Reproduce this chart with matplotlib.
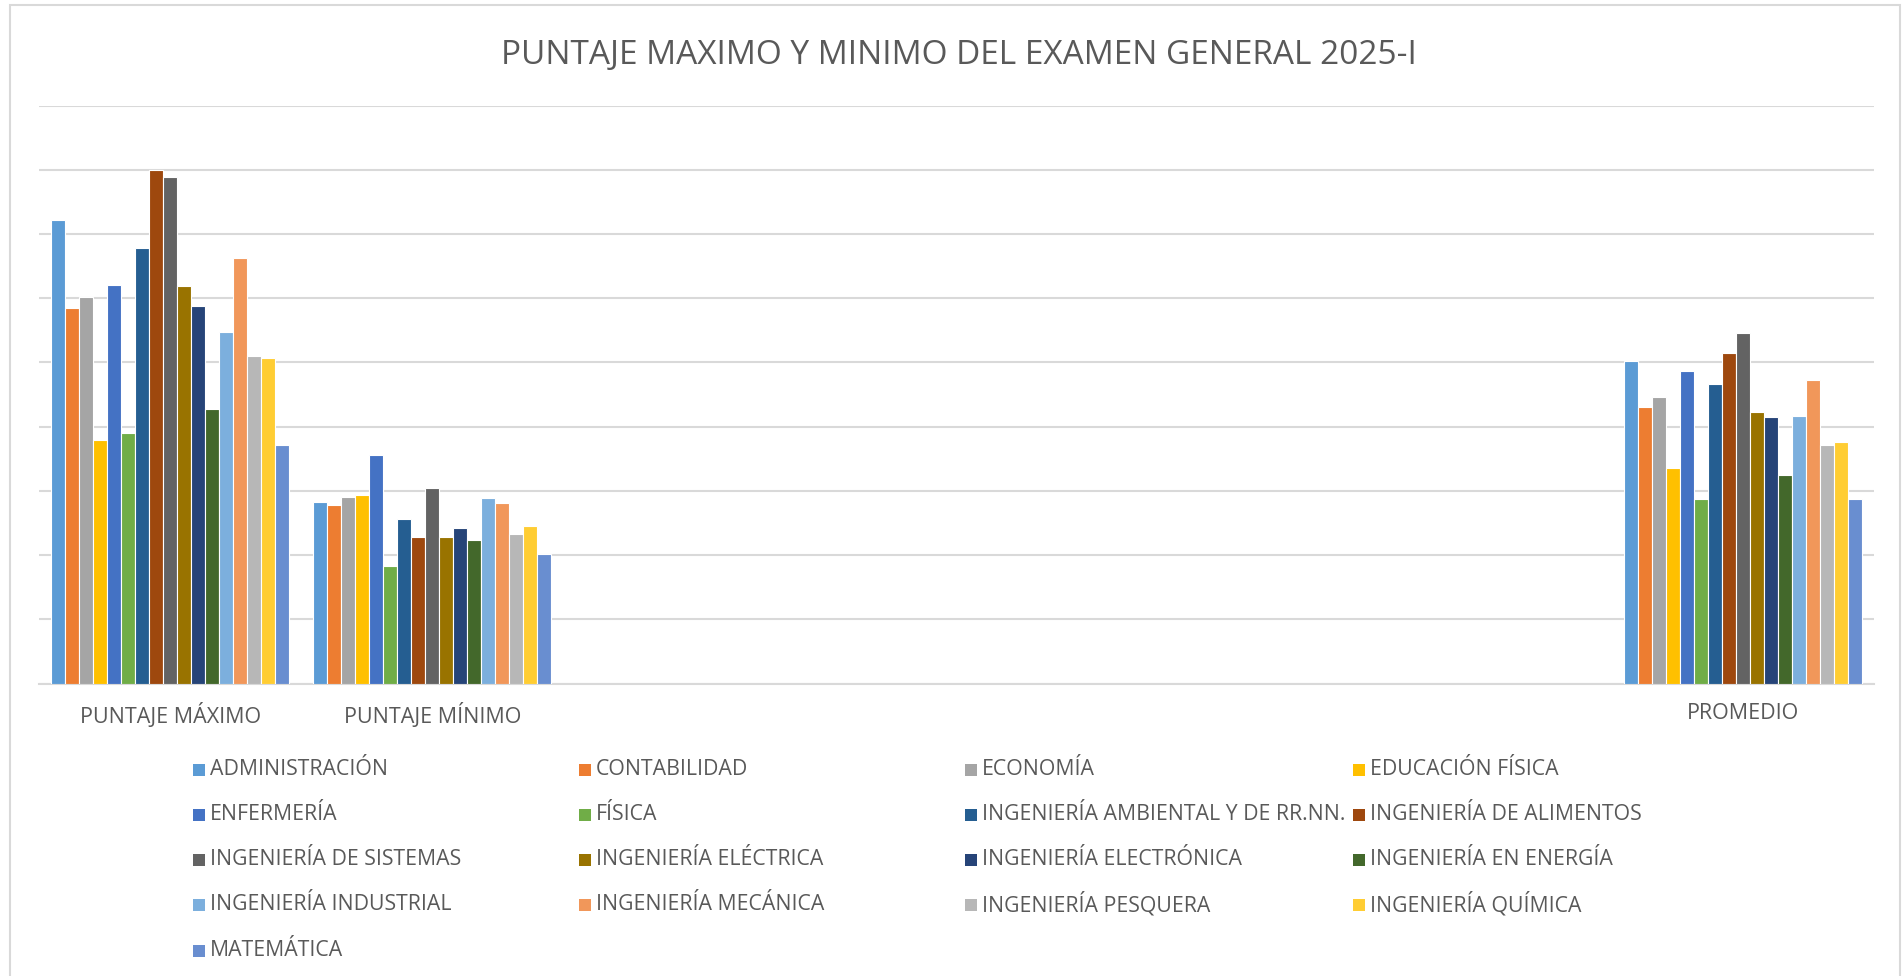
import numpy as np
import matplotlib
matplotlib.use("Agg")
import matplotlib.pyplot as plt
from matplotlib.patches import Rectangle

plt.rcParams['font.family'] = ['Open Sans', 'DejaVu Sans']

title = "PUNTAJE MAXIMO Y MINIMO DEL EXAMEN GENERAL 2025-I"
categories = ["PUNTAJE MÁXIMO", "PUNTAJE MÍNIMO", "", "", "", "", "PROMEDIO"]
series = ["ADMINISTRACIÓN", "CONTABILIDAD", "ECONOMÍA", "EDUCACIÓN FÍSICA",
          "ENFERMERÍA", "FÍSICA", "INGENIERÍA AMBIENTAL Y DE RR.NN.", "INGENIERÍA DE ALIMENTOS",
          "INGENIERÍA DE SISTEMAS", "INGENIERÍA ELÉCTRICA", "INGENIERÍA ELECTRÓNICA", "INGENIERÍA EN ENERGÍA",
          "INGENIERÍA INDUSTRIAL", "INGENIERÍA MECÁNICA", "INGENIERÍA PESQUERA", "INGENIERÍA QUÍMICA",
          "MATEMÁTICA"]
colors = ["#5B9BD5", "#ED7D31", "#A5A5A5", "#FFC000", "#4472C4", "#70AD47",
          "#255E91", "#9E480E", "#636363", "#997300", "#264478", "#43682B",
          "#7CAFDD", "#F1975A", "#B7B7B7", "#FFCD33", "#698ED0"]

puntaje_max = [72.2, 58.5, 60.2, 37.9, 62.0, 39.0, 67.9, 80.0, 78.9, 61.9, 58.8, 42.7,
               54.7, 66.3, 51.0, 50.7, 37.1]
puntaje_min = [28.3, 27.8, 29.0, 29.3, 35.6, 18.3, 25.6, 22.8, 30.4, 22.8, 24.2, 22.4,
               28.9, 28.1, 23.3, 24.5, 20.2]
promedio = [50.2, 43.1, 44.6, 33.6, 48.7, 28.7, 46.7, 51.4, 54.6, 42.3, 41.5, 32.5,
            41.7, 47.2, 37.1, 37.6, 28.7]

W, H = 1904, 976
fig = plt.figure(figsize=(W / 100, H / 100), dpi=100)
fig.patch.set_facecolor("white")

# chart border
fig.patches.append(Rectangle((10 / W, -0.01), 1890 / W, 1 - 5 / H + 0.01,
                             transform=fig.transFigure, fill=False,
                             edgecolor="#D9D9D9", linewidth=1.5))

left, right = 39 / W, 1874 / W
top, bottom = 1 - 105.6 / H, 1 - 683.6 / H
ax = fig.add_axes([left, bottom, right - left, top - bottom])

n = len(series)
ncat = len(categories)
gap = 1.7
w = 1.0 / (n + gap)
x = np.arange(ncat)
cat_data = {0: puntaje_max, 1: puntaje_min, 6: promedio}
for j in range(n):
    vals = np.array([cat_data[i][j] if i in cat_data else np.nan for i in range(ncat)])
    ax.bar(x + (j - (n - 1) / 2) * w, vals, width=w, color=colors[j],
           edgecolor="white", linewidth=0.8, zorder=3)

ax.set_xlim(-0.5, ncat - 0.5)
ax.set_ylim(0, 90)
ax.set_yticks(np.arange(0, 91, 10))
ax.yaxis.grid(True, color="#D9D9D9", linewidth=1.5, zorder=0)
ax.tick_params(axis="y", length=0, labelleft=False)
ax.tick_params(axis="x", length=0, pad=14, labelsize=15.5, labelcolor="#595959")
ax.set_xticks(x)
ax.set_xticklabels(categories)
for s in ["top", "right", "left"]:
    ax.spines[s].set_visible(False)
ax.spines["bottom"].set_color("#D9D9D9")
ax.spines["bottom"].set_linewidth(1.5)

fig.text(959 / W, 1 - 55 / H, title, ha="center", va="center",
         fontsize=24, color="#595959")

# legend (row-major, 4 columns)
col_x = [193, 579, 965, 1353]
row_y = [769.5, 814.5, 859.5, 904.5, 950.5]
sq = 12
for k, name in enumerate(series):
    r, c = divmod(k, 4)
    cx, cy = col_x[c], row_y[r]
    fig.patches.append(Rectangle((cx / W, 1 - (cy + sq / 2) / H), sq / W, sq / H,
                                 transform=fig.transFigure, facecolor=colors[k],
                                 edgecolor="none"))
    fig.text((cx + sq + 5) / W, 1 - cy / H, name, ha="left", va="center",
             fontsize=15.3, color="#595959")

fig.savefig("out.png", dpi=100, facecolor="white")
